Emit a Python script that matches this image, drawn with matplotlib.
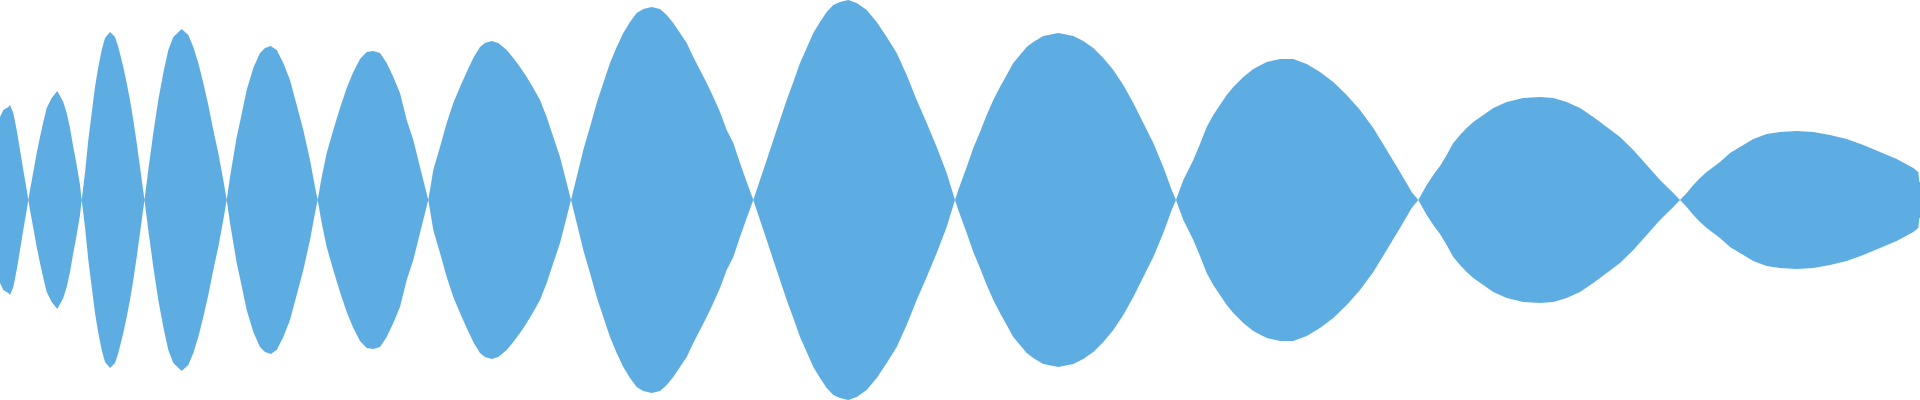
import matplotlib
matplotlib.use("Agg")
import matplotlib.pyplot as plt
import numpy as np

# Envelope of the waveform: sample position (px) and half-amplitude (px above centre)
positions = [
    # lobe 1
    0, 3.3, 8.3, 10, 13.3, 16.7, 20, 23.3, 26.7, 28.3,
    # lobe 2
    30, 33.3, 36.7, 40, 43.3, 46.7, 51.7, 57.3, 63.3, 66.7, 70, 73.3, 76.7, 80, 81.7,
    # lobe 3
    85, 88.3, 91.7, 95, 98.3, 101.7, 105, 110, 115, 118.3, 123.3, 126.7, 130, 133.3,
    136.7, 140, 142.7, 144.5,
    # lobe 4
    148.3, 153.3, 158.3, 163.3, 168.3, 173.3, 181.7, 188.3, 193.3, 198.3, 203.3,
    208.3, 213.3, 218.3, 223.3, 226.7,
    # lobe 5
    230, 236.7, 240, 246.7, 253.3, 260, 265, 270.7, 276.7, 283.3, 290, 296.7,
    303.3, 310, 315, 317.7,
    # lobe 6
    321.7, 326.7, 333.3, 340, 346.7, 353.3, 360, 366.7, 373.3, 380, 386.7, 393.3,
    400, 406.7, 413.3, 420, 425, 428.3,
    # lobe 7
    433.3, 440, 446.7, 453.3, 460, 466.7, 473.3, 480, 485, 491.7, 498.3, 506.7,
    513.3, 520, 526.7, 533.3, 540, 546.7, 553.3, 560, 566.7, 571,
    # lobe 8
    576.7, 583.3, 590, 596.7, 603.3, 610, 616.7, 623.3, 630, 636.7, 643.3, 651.7,
    660, 666.7, 673.3, 680, 686.7, 693.3, 700, 706.7, 713.3, 720, 726.7, 733.3,
    740, 746.7, 753.3,
    # lobe 9
    760, 766.7, 773.3, 780, 786.7, 793.3, 800, 806.7, 813.3, 820, 826.7, 833.3,
    840, 848.3, 856.7, 866.7, 876.7, 886.7, 896.7, 906.7, 916.7, 926.7, 936.7,
    946.7, 955,
    # lobe 10
    958.3, 966.7, 973.3, 980, 986.7, 993.3, 1000, 1006.7, 1013.3, 1020, 1026.7,
    1033.3, 1043.3, 1058.3, 1073.3, 1083.3, 1093.3, 1103.3, 1113.3, 1123.3,
    1133.3, 1143.3, 1153.3, 1163.3, 1171.7, 1176,
    # lobe 11
    1183.3, 1193.3, 1200, 1206.7, 1213.3, 1220, 1226.7, 1233.3, 1243.3, 1253.3,
    1266.7, 1280, 1293.3, 1306.7, 1320, 1333.3, 1346.7, 1360, 1373.3, 1386.7,
    1400, 1411.7, 1418.3,
    # lobe 12
    1426.7, 1433.3, 1440, 1446.7, 1453.3, 1460, 1466.7, 1473.3, 1483.3, 1493.3,
    1506.7, 1523.3, 1540, 1553.3, 1566.7, 1580, 1593.3, 1606.7, 1620, 1633.3,
    1646.7, 1660, 1673.3, 1680,
    # lobe 13
    1686.7, 1693.3, 1700, 1706.7, 1713.3, 1720, 1730, 1740, 1753.3, 1766.7, 1780,
    1796.7, 1813.3, 1830, 1846.7, 1863.3, 1880, 1896.7, 1913.3, 1918.3, 1919.3, 1920,
]
amplitude = [
    # lobe 1
    83, 90, 93, 95, 87, 70, 50, 30, 10, 0,
    # lobe 2
    10, 28, 47, 63, 78, 92, 102, 109, 98, 87, 72, 53, 35, 15, 0,
    # lobe 3
    27, 60, 87, 113, 133, 150, 162, 168, 163, 153, 133, 117, 100, 80,
    57, 33, 13, 0,
    # lobe 4
    30, 67, 100, 127, 150, 163, 171, 165, 153, 137, 117,
    95, 70, 47, 20, 0,
    # lobe 5
    23, 63, 78, 110, 132, 147, 152, 154, 150, 137, 120, 95,
    70, 40, 13, 0,
    # lobe 6
    23, 47, 70, 92, 112, 128, 141, 148, 149, 147, 137, 123,
    107, 80, 60, 33, 13, 0,
    # lobe 7
    30, 53, 77, 97, 113, 128, 142, 153, 157, 159, 157, 150,
    142, 133, 123, 112, 100, 83, 63, 43, 17, 0,
    # lobe 8
    23, 50, 73, 97, 117, 137, 153, 167, 178, 187, 191, 193,
    191, 185, 177, 167, 157, 143, 130, 117, 103, 88, 70, 57,
    37, 18, 0,
    # lobe 9
    20, 40, 60, 80, 100, 118, 137, 152, 167, 178, 188, 195,
    198, 200, 197, 190, 178, 163, 147, 125, 100, 77, 53,
    27, 0,
    # lobe 10
    10, 33, 52, 68, 85, 100, 113, 125, 137, 145, 153,
    158, 164, 167, 164, 159, 152, 142, 130, 115,
    97, 77, 57, 33, 10, 0,
    # lobe 11
    20, 40, 56, 73, 85, 95, 105, 113, 123, 131,
    138, 141, 141, 136, 128, 118, 105, 90, 72, 50,
    28, 8, 0,
    # lobe 12
    15, 25, 34, 45, 57, 65, 72, 78, 85, 92,
    98, 102, 103, 102, 98, 92, 83, 73, 63, 50,
    35, 20, 7, 0,
    # lobe 13
    7, 15, 22, 28, 33, 38, 47, 53, 61, 66, 68,
    69, 68, 65, 61, 55, 48, 41, 32, 28, 18, 18,
]

x = np.array(positions, dtype=float)
a = np.array(amplitude, dtype=float)

fig = plt.figure(figsize=(19.2, 4), dpi=100)
ax = fig.add_axes([0, 0, 1, 1])
ax.fill_between(x, -a, a, color="#5DADE2", linewidth=0)
ax.set_xlim(0, 1920)
ax.set_ylim(-200, 200)
ax.axis("off")
fig.savefig("out.png", dpi=100, facecolor="white")
